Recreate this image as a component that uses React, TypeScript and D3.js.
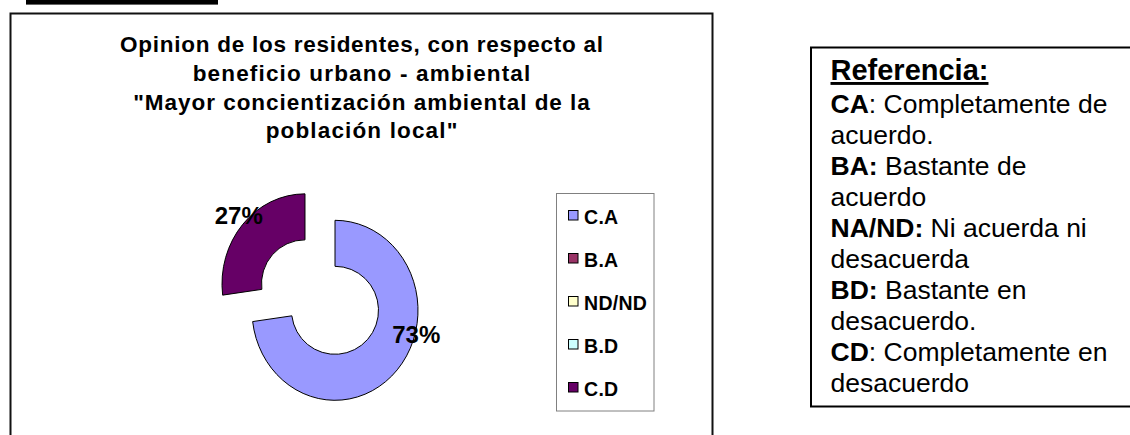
import React from "react";
import * as d3 from "d3";

const categories = ["C.A", "B.A", "ND/ND", "B.D", "C.D"];
const values = [73, 0, 0, 0, 27];
const sliceColors = ["#9999FF", "#993366", "#FFFFCC", "#CCFFFF", "#660066"];
const percentLabels = ["73%", "", "", "", "27%"];

const titleLines = [
  "Opinion de los residentes, con respecto al",
  "beneficio urbano - ambiental",
  "\"Mayor concientización ambiental de la",
  "población local\"",
];

const referenceHeading = "Referencia:";
const referenceLines: [string, string][] = [
  ["CA", ": Completamente de"],
  ["", "acuerdo."],
  ["BA:", " Bastante de"],
  ["", "acuerdo"],
  ["NA/ND:", " Ni acuerda ni"],
  ["", "desacuerda"],
  ["BD:", " Bastante en"],
  ["", "desacuerdo."],
  ["CD", ": Completamente en"],
  ["", "desacuerdo"],
];

const FONT = "'Liberation Sans', Arial, Helvetica, sans-serif";

export default function App() {
  const W = 1130;
  const H = 435;

  // doughnut geometry
  const cx = 335;
  const cy = 310.3;
  const ROX = 83;
  const ROY = 90;
  const RIX = 43.5;
  const RIY = 44;
  const explode = [0, 0, 0, 0, 40];
  const labelPos = [
    { t: 0.4, f: 1.014 },
    { t: 0.5, f: 1 },
    { t: 0.5, f: 1 },
    { t: 0.5, f: 1 },
    { t: 0.525, f: 1.106 },
  ];

  const pie = d3
    .pie<number>()
    .sort(null)
    .value((d) => d);
  const arcs = pie(values);

  const ring = (a0: number, a1: number, ox: number, oy: number) => {
    const p = (a: number, rx: number, ry: number) => [
      ox + rx * Math.sin(a),
      oy - ry * Math.cos(a),
    ];
    const large = a1 - a0 > Math.PI ? 1 : 0;
    const [x0, y0] = p(a0, ROX, ROY);
    const [x1, y1] = p(a1, ROX, ROY);
    const [ix1, iy1] = p(a1, RIX, RIY);
    const [ix0, iy0] = p(a0, RIX, RIY);
    return `M${x0},${y0}A${ROX},${ROY} 0 ${large} 1 ${x1},${y1}L${ix1},${iy1}A${RIX},${RIY} 0 ${large} 0 ${ix0},${iy0}Z`;
  };

  // title
  const titleX = 361.5;
  const titleY = d3.scaleLinear().domain([0, 1]).range([52, 80.8]);
  const titleWidths = [483, 337.6, 456.6, 191.6];

  // legend
  const legendY = d3.scaleLinear().domain([0, 1]).range([223.5, 266.5]);

  // reference text
  const refY = d3.scaleLinear().domain([0, 1]).range([113, 144]);

  return (
    <svg
      width={W}
      height={H}
      style={{ position: "absolute", left: 0, top: 0, background: "#fff" }}
      fontFamily={FONT}
    >
      <rect x={0} y={0} width={W} height={H} fill="#fff" />
      {/* top bar (cropped underline) */}
      <rect x={26} y={0} width={192} height={4.6} fill="#000" />

      {/* chart box */}
      <path d="M10.5,440V13.5H712.5V440" fill="none" stroke="#111" strokeWidth={2} />

      {/* title */}
      {titleLines.map((line, i) => (
        <text
          key={i}
          x={titleX}
          y={titleY(i)}
          textAnchor="middle"
          fontSize={22.5}
          fontWeight="bold"
          textLength={titleWidths[i]}
          lengthAdjust="spacing"
          fill="#000"
        >
          {line}
        </text>
      ))}

      {/* doughnut */}
      {arcs.map((a, i) => {
        if (a.data === 0) return null;
        const mid = (a.startAngle + a.endAngle) / 2;
        const ox = cx + explode[i] * Math.sin(mid);
        const oy = cy - explode[i] * Math.cos(mid);
        return (
          <path
            key={i}
            d={ring(a.startAngle, a.endAngle, ox, oy)}
            fill={sliceColors[i]}
            stroke="#000"
            strokeWidth={1}
          />
        );
      })}
      {arcs.map((a, i) => {
        if (a.data === 0) return null;
        const mid = (a.startAngle + a.endAngle) / 2;
        const ox = cx + explode[i] * Math.sin(mid);
        const oy = cy - explode[i] * Math.cos(mid);
        const ang = a.startAngle + (a.endAngle - a.startAngle) * labelPos[i].t;
        const lx = ox + ROX * labelPos[i].f * Math.sin(ang);
        const ly = oy - ROY * labelPos[i].f * Math.cos(ang);
        return (
          <text
            key={"l" + i}
            x={lx}
            y={ly}
            dy="0.36em"
            textAnchor="middle"
            fontSize={24}
            fontWeight="bold"
            fill="#000"
          >
            {percentLabels[i]}
          </text>
        );
      })}

      {/* legend */}
      <rect x={556.5} y={193.5} width={97.5} height={217.5} fill="#fff" stroke="#808080" strokeWidth={1} />
      {categories.map((c, i) => (
        <g key={c}>
          <rect
            x={568.5}
            y={legendY(i) - 13}
            width={9.5}
            height={9.5}
            fill={sliceColors[i]}
            stroke="#000"
            strokeWidth={1}
          />
          <text
            x={584}
            y={legendY(i)}
            fontSize={19.5}
            fontWeight="bold"
            letterSpacing={0.3}
            fill="#000"
          >
            {c}
          </text>
        </g>
      ))}

      {/* reference box */}
      <path d="M1140,47.5H811V406.5H1140" fill="none" stroke="#000" strokeWidth={2} />
      <text x={830.5} y={80} fontSize={29} fontWeight="bold" textDecoration="underline" fill="#000">
        {referenceHeading}
      </text>
      {referenceLines.map(([b, r], i) => (
        <text key={i} x={830.5} y={refY(i)} fontSize={26.5} fill="#000">
          {b && <tspan fontWeight="bold">{b}</tspan>}
          <tspan>{r}</tspan>
        </text>
      ))}
    </svg>
  );
}
